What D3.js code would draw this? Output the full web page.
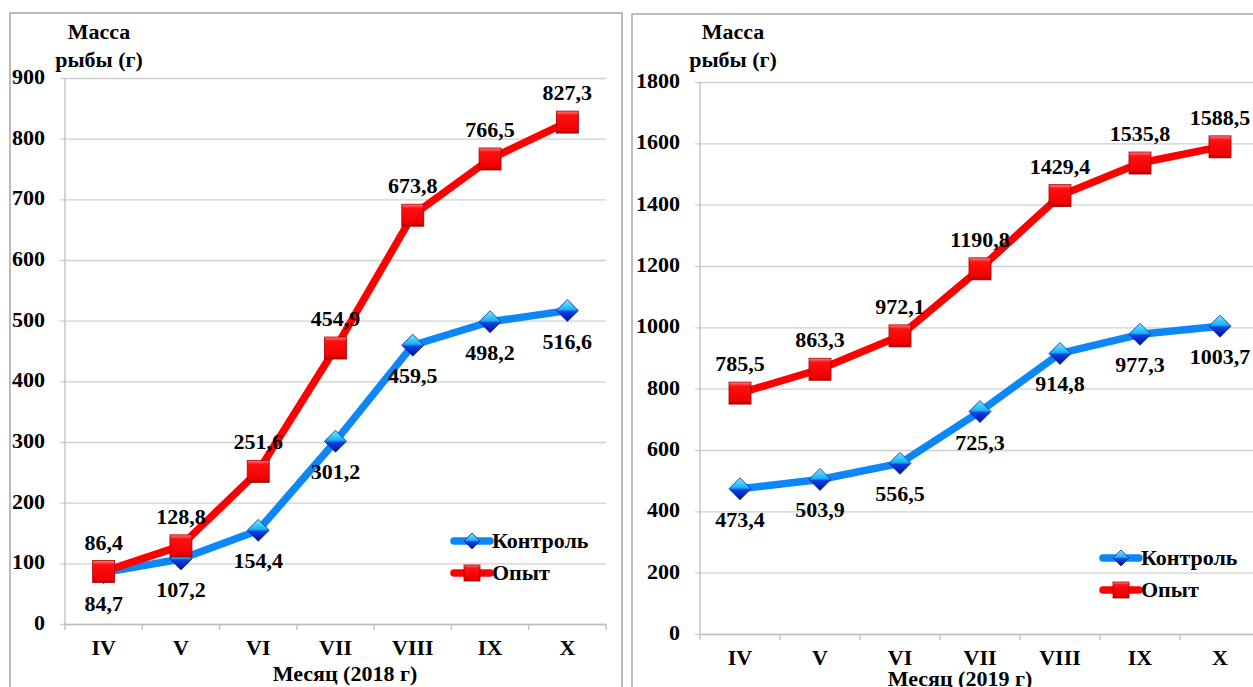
<!DOCTYPE html>
<html>
<head>
<meta charset="utf-8">
<script src="https://cdn.jsdelivr.net/npm/d3@7"></script>
<style>
  body { margin: 0; background: #fff; }
  svg text { font-family: "Liberation Serif", "Times New Roman", serif; font-weight: bold; fill: #000; }
</style>
</head>
<body>
<svg id="chart" width="1253" height="687"></svg>
<script>
var months = ["IV", "V", "VI", "VII", "VIII", "IX", "X"];
var control2018 = [84.7, 107.2, 154.4, 301.2, 459.5, 498.2, 516.6];
var opyt2018 = [86.4, 128.8, 251.6, 454.9, 673.8, 766.5, 827.3];
var control2019 = [473.4, 503.9, 556.5, 725.3, 914.8, 977.3, 1003.7];
var opyt2019 = [785.5, 863.3, 972.1, 1190.8, 1429.4, 1535.8, 1588.5];
var yTicks2018 = [0, 100, 200, 300, 400, 500, 600, 700, 800, 900];
var yTicks2019 = [0, 200, 400, 600, 800, 1000, 1200, 1400, 1600, 1800];
var seriesNames = ["Контроль", "Опыт"];
var yTitle = ["Масса", "рыбы (г)"];

var svg = d3.select("#chart");
var SX = 1.1; // text in the original is a little wider than Times

function fmt(v) { return v.toFixed(1).replace(".", ","); }

// stretched text helper
function label(g, x, y, str, size, anchor) {
  return g.append("text")
    .attr("transform", "translate(" + x + "," + y + ") scale(" + SX + ",1)")
    .attr("text-anchor", anchor || "middle")
    .style("font-size", size + "px")
    .text(str);
}

// gradients for markers
var defs = svg.append("defs");
var gb = defs.append("linearGradient").attr("id", "gBlue").attr("x1", 0).attr("y1", 0).attr("x2", 0).attr("y2", 1);
gb.append("stop").attr("offset", "0%").attr("stop-color", "#7fe6ff");
gb.append("stop").attr("offset", "45%").attr("stop-color", "#12b4f5");
gb.append("stop").attr("offset", "55%").attr("stop-color", "#1040e0");
gb.append("stop").attr("offset", "100%").attr("stop-color", "#0010a0");
var gr = defs.append("linearGradient").attr("id", "gRed").attr("x1", 0).attr("y1", 0).attr("x2", 0).attr("y2", 1);
gr.append("stop").attr("offset", "0%").attr("stop-color", "#ff8080");
gr.append("stop").attr("offset", "18%").attr("stop-color", "#ff1010");
gr.append("stop").attr("offset", "85%").attr("stop-color", "#f00000");
gr.append("stop").attr("offset", "100%").attr("stop-color", "#b00000");

function diamond(g, x, y, s) {
  g.append("path")
    .attr("d", "M" + x + "," + (y - s) + "L" + (x + s) + "," + y + "L" + x + "," + (y + s) + "L" + (x - s) + "," + y + "Z")
    .attr("fill", "url(#gBlue)").attr("stroke", "#0a2a9a").attr("stroke-width", 0.8);
}
function square(g, x, y, s) {
  g.append("rect").attr("x", x - s).attr("y", y - s).attr("width", 2 * s).attr("height", 2 * s)
    .attr("fill", "url(#gRed)").attr("stroke", "#a00000").attr("stroke-width", 0.8);
}

function drawChart(p) {
  var g = svg.append("g");
  // panel border
  g.append("rect").attr("x", p.box[0]).attr("y", p.box[1]).attr("width", p.box[2]).attr("height", p.box[3])
    .attr("fill", "#fff").attr("stroke", "#a6a6a6").attr("stroke-width", 1.5);

  var x = d3.scalePoint().domain(months).range([p.left, p.right]).padding(0.5);
  var y = d3.scaleLinear().domain([0, p.ticks[p.ticks.length - 1]]).range([p.bottom, p.top]);
  var w = p.right - p.left;

  // y axis with gridlines
  var ya = g.append("g").attr("transform", "translate(" + p.left + ",0)")
    .call(d3.axisLeft(y).tickValues(p.ticks).tickSize(-w).tickFormat(""));
  ya.select(".domain").remove();
  ya.selectAll(".tick line").attr("x1", -5).attr("stroke", "#d0d0d0").attr("stroke-width", 1.3);
  p.ticks.forEach(function (t) { label(g, p.left - 20, y(t) + 6, String(t), 20, "end"); });
  g.append("line").attr("x1", p.left).attr("x2", p.left).attr("y1", p.top).attr("y2", p.bottom)
    .attr("stroke", "#bfbfbf").attr("stroke-width", 1.3);

  // x axis
  var xa = g.append("g").attr("transform", "translate(0," + p.bottom + ")")
    .call(d3.axisBottom(x).tickSize(0).tickFormat(""));
  xa.select(".domain").attr("stroke", "#bfbfbf").attr("stroke-width", 1.3);
  var step = x.step();
  d3.range(months.length + 1).forEach(function (i) {
    var tx = p.left + i * step;
    g.append("line").attr("x1", tx).attr("x2", tx).attr("y1", p.bottom).attr("y2", p.bottom + 6)
      .attr("stroke", "#bfbfbf").attr("stroke-width", 1.3);
  });
  months.forEach(function (m) { label(g, x(m), p.bottom + 31, m, 20); });

  // titles
  label(g, p.ytx, 39, yTitle[0], 20);
  label(g, p.ytx, 67, yTitle[1], 20);
  label(g, p.xtx, p.xty, p.xTitle, 20);

  var line = d3.line().x(function (d, i) { return x(months[i]); }).y(function (d) { return y(d); });
  g.append("path").datum(p.control).attr("d", line).attr("fill", "none")
    .attr("stroke", "#0d87f5").attr("stroke-width", 7.5).attr("stroke-linejoin", "round");
  p.control.forEach(function (v, i) { diamond(g, x(months[i]), y(v), 11); });
  g.append("path").datum(p.opyt).attr("d", line).attr("fill", "none")
    .attr("stroke", "#ff0000").attr("stroke-width", 7.5).attr("stroke-linejoin", "round");
  p.opyt.forEach(function (v, i) { square(g, x(months[i]), y(v), 11); });

  // value labels: control below, opyt above
  p.control.forEach(function (v, i) { label(g, x(months[i]), y(v) + 38, fmt(v), 20); });
  p.opyt.forEach(function (v, i) { label(g, x(months[i]), y(v) - 22, fmt(v), 20); });

  // legend
  var lx = p.legend[0], ly = p.legend[1];
  [0, 1].forEach(function (k) {
    var yy = ly + k * 32;
    g.append("line").attr("x1", lx).attr("x2", lx + 36).attr("y1", yy).attr("y2", yy)
      .attr("stroke", k ? "#ff0000" : "#0d87f5").attr("stroke-width", 7.5).attr("stroke-linecap", "round");
    if (k) square(g, lx + 18, yy, 8); else diamond(g, lx + 18, yy, 8);
    label(g, lx + 38, yy + 7, seriesNames[k], 20, "start");
  });
}

drawChart({
  box: [10, 13, 612, 700], left: 65, right: 606, top: 78, bottom: 624,
  ticks: yTicks2018, control: control2018, opyt: opyt2018,
  ytx: 99, xtx: 345, xty: 681, xTitle: "Месяц (2018 г)", legend: [454, 541]
});
drawChart({
  box: [632, 14, 640, 700], left: 700, right: 1260, top: 82, bottom: 634,
  ticks: yTicks2019, control: control2019, opyt: opyt2019,
  ytx: 733, xtx: 960, xty: 686, xTitle: "Месяц (2019 г)", legend: [1103, 558]
});
</script>
</body>
</html>
